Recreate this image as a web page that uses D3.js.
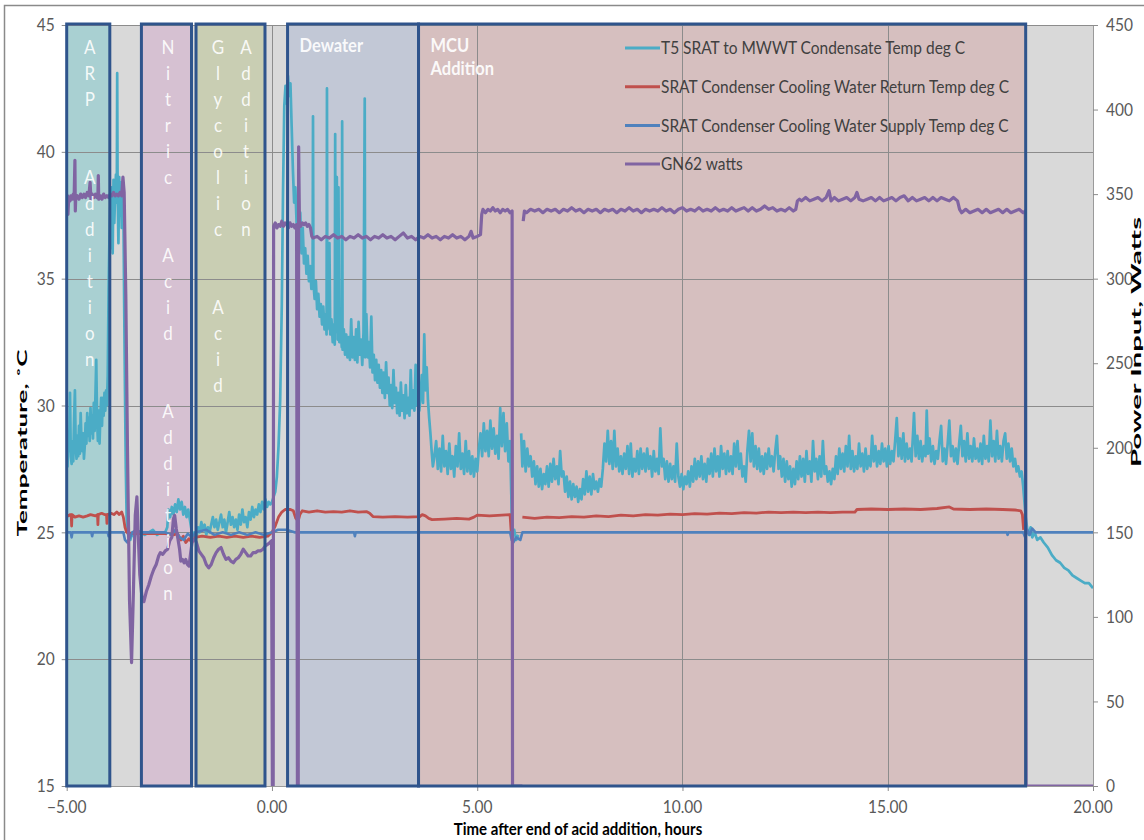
<!DOCTYPE html>
<html>
<head>
<meta charset="utf-8">
<script src="https://cdn.jsdelivr.net/npm/d3@7"></script>
<style>
  html, body { margin: 0; padding: 0; background: #ffffff; }
  svg { display: block; font-family: Lato, "Open Sans", "DejaVu Sans", sans-serif; }
</style>
</head>
<body>
<svg id="chart" width="1144" height="840"></svg>
<script>
// ---------------------------------------------------------------
// Process phases (hours after end of acid addition)
// ---------------------------------------------------------------
const phaseNames = ["ARP Addition", "Nitric Acid Addition", "Glycolic Acid Addition", "Dewater", "MCU Addition"];
const phaseStart = [-5.0, -3.18, -1.85, 0.38, 3.57];
const phaseEnd   = [-3.95, -1.96, -0.17, 3.57, 18.36];
// text written inside each phase box (one entry per column / line)
const phaseLabels = [["ARP Addition"], ["Nitric Acid Addition"], ["Glycolic Acid", "Addition"], ["Dewater"], ["MCU", "Addition"]];

// ---------------------------------------------------------------
// Axis ticks
// ---------------------------------------------------------------
const xTicks = [-5, 0, 5, 10, 15, 20];
const tempTicks = [15, 20, 25, 30, 35, 40, 45];
const powerTicks = [0, 50, 100, 150, 200, 250, 300, 350, 400, 450];

const seriesNames = [
  "T5 SRAT to MWWT Condensate Temp deg C",
  "SRAT Condenser Cooling Water Return Temp deg C",
  "SRAT Condenser Cooling Water Supply Temp deg C",
  "GN62 watts"
];

// ---------------------------------------------------------------
// Series: [hours, value]; null marks a logging gap
// ---------------------------------------------------------------
const condensateTemp = [
  [-5.00,28.4],[-4.98,27.6],[-4.96,29.0],[-4.94,28.2],[-4.92,30.5],[-4.90,28.0],[-4.88,27.7],[-4.86,28.6],[-4.84,27.8],[-4.82,29.4],
  [-4.80,30.6],[-4.78,28.3],[-4.76,27.9],[-4.74,28.8],[-4.72,28.0],[-4.70,29.2],[-4.68,28.1],[-4.66,29.7],[-4.64,28.6],[-4.62,28.2],
  [-4.60,28.9],[-4.58,27.9],[-4.56,28.4],[-4.54,29.3],[-4.52,28.5],[-4.50,29.7],[-4.48,28.8],[-4.46,29.5],[-4.44,28.6],[-4.42,29.9],
  [-4.40,28.9],[-4.38,29.6],[-4.36,28.7],[-4.34,30.1],[-4.32,29.0],[-4.30,30.4],[-4.28,31.8],[-4.26,29.4],[-4.24,28.6],[-4.22,29.8],
  [-4.20,28.5],[-4.18,29.6],[-4.16,30.3],[-4.14,29.2],[-4.12,30.3],[-4.10,29.6],[-4.08,30.5],[-4.06,29.8],[-4.04,30.6],[-4.02,30.0],
  [-4.00,31.2],[-3.98,34.5],[-3.96,36.5],[-3.94,37.8],[-3.92,36.2],[-3.90,38.6],[-3.88,36.0],[-3.86,38.9],[-3.84,37.2],[-3.82,38.4],
  [-3.80,39.1],[-3.78,38.0],[-3.77,43.1],[-3.76,38.5],[-3.74,36.4],[-3.72,39.0],[-3.70,37.5],[-3.68,38.8],[-3.66,37.0],[-3.64,38.4],
  [-3.62,38.1],[-3.60,34.0],[-3.58,30.5],[-3.56,27.5],[-3.54,25.6],[-3.52,25.0],[-3.50,24.9],[-3.45,24.7],[-3.40,25.0],[-3.35,24.8],
  [-3.30,25.1],[-3.20,25.0],[-3.10,24.9],[-3.00,25.0],[-2.90,25.1],[-2.80,24.9],[-2.70,25.0],[-2.60,25.0],[-2.55,25.2],[-2.52,25.9],
  [-2.48,25.6],[-2.44,26.0],[-2.40,25.7],[-2.36,26.1],[-2.32,25.8],[-2.28,26.3],[-2.24,25.9],[-2.20,26.2],[-2.16,25.7],[-2.12,26.0],
  [-2.08,25.6],[-2.04,25.9],[-2.00,25.5],[-1.96,25.1],[-1.92,24.9],[-1.88,25.0],[-1.84,24.8],[-1.80,25.2],[-1.76,25.0],[-1.72,25.4],
  [-1.68,25.1],[-1.64,25.3],[-1.60,24.9],[-1.56,25.2],[-1.52,25.0],[-1.48,25.3],[-1.44,25.6],[-1.40,25.2],[-1.36,25.5],[-1.32,25.1],
  [-1.28,25.4],[-1.24,25.7],[-1.20,25.2],[-1.16,25.5],[-1.12,25.0],[-1.08,25.4],[-1.04,25.8],[-1.00,25.3],[-0.96,25.6],[-0.92,25.2],
  [-0.88,25.5],[-0.84,25.1],[-0.80,25.7],[-0.76,25.3],[-0.72,25.9],[-0.68,25.4],[-0.64,25.6],[-0.60,25.2],[-0.56,25.8],[-0.52,25.5],
  [-0.48,26.0],[-0.44,25.6],[-0.40,25.9],[-0.36,25.7],[-0.32,26.1],[-0.28,25.8],[-0.24,26.2],[-0.20,25.9],[-0.16,26.3],[-0.12,26.0],
  [-0.08,26.2],[-0.04,26.1],[0.00,26.2],[0.04,26.4],[0.08,26.6],[0.12,27.2],[0.16,28.4],[0.20,30.2],[0.24,34.0],[0.27,38.5],
  [0.30,41.8],[0.33,42.6],[0.36,41.9],[0.39,43.0],[0.42,42.2],[0.45,42.7],[0.48,41.0],[0.51,39.3],[0.54,38.0],[0.57,38.6],
  [0.60,37.2],[0.63,37.9],[0.66,36.4],[0.69,37.6],[0.72,36.0],[0.75,37.0],[0.78,35.6],[0.81,36.2],[0.84,35.2],[0.87,35.9],
  [0.90,34.9],[0.93,35.5],[0.96,34.6],[0.99,35.3],[1.00,41.4],[1.01,34.8],[1.04,34.2],[1.07,34.9],[1.10,33.8],[1.13,34.4],
  [1.16,33.5],[1.19,34.0],[1.22,33.2],[1.25,33.9],[1.28,33.0],[1.31,33.6],[1.33,32.8],[1.34,42.5],[1.35,33.0],[1.38,33.5],
  [1.40,36.4],[1.42,32.8],[1.45,33.4],[1.48,32.5],[1.51,33.2],[1.53,32.4],[1.54,40.7],[1.55,32.9],[1.58,39.0],[1.60,32.6],
  [1.62,38.6],[1.64,32.5],[1.67,33.3],[1.70,32.3],[1.71,41.2],[1.72,32.2],[1.75,33.0],[1.78,32.0],[1.81,32.8],[1.84,31.9],
  [1.87,32.7],[1.90,31.8],[1.93,33.4],[1.96,31.9],[1.99,32.7],[2.02,31.8],[2.05,33.0],[2.08,31.7],[2.11,33.3],[2.14,32.0],
  [2.17,32.6],[2.20,31.6],[2.23,32.9],[2.26,42.1],[2.27,31.9],[2.30,33.6],[2.33,31.9],[2.36,32.5],[2.39,31.5],[2.42,33.5],
  [2.45,31.3],[2.48,32.0],[2.51,31.0],[2.54,31.8],[2.57,30.9],[2.60,31.6],[2.63,30.7],[2.66,31.4],[2.69,30.5],[2.72,31.3],
  [2.75,30.3],[2.78,31.7],[2.81,30.5],[2.84,31.1],[2.87,30.0],[2.90,30.8],[2.93,29.9],[2.96,31.4],[2.99,30.1],[3.02,30.7],
  [3.05,29.7],[3.08,30.5],[3.11,29.6],[3.14,30.9],[3.17,29.8],[3.20,30.4],[3.23,29.5],[3.26,30.8],[3.29,29.7],[3.32,30.3],
  [3.35,29.6],[3.38,31.4],[3.41,29.9],[3.44,30.6],[3.47,29.8],[3.50,31.6],[3.53,30.0],[3.56,30.7],[3.59,29.8],[3.62,30.4],
  [3.65,31.2],[3.68,30.1],[3.71,32.8],[3.74,30.6],[3.77,31.5],[3.80,30.2],[3.83,29.5],[3.86,28.9],[3.89,28.2],[3.92,27.6],
  [3.95,27.9],[4.00,28.6],[4.04,27.5],[4.08,28.3],[4.12,27.4],[4.16,28.8],[4.20,27.6],[4.24,28.2],[4.28,27.3],[4.32,28.5],
  [4.36,27.5],[4.40,28.0],[4.44,27.2],[4.48,28.4],[4.52,27.6],[4.56,28.9],[4.60,27.5],[4.64,28.1],[4.68,27.3],[4.72,28.6],
  [4.76,27.4],[4.80,28.2],[4.84,27.3],[4.88,28.0],[4.92,27.2],[4.96,27.9],[5.00,27.4],[5.04,28.3],[5.08,28.9],[5.12,28.0],
  [5.16,29.3],[5.20,28.2],[5.24,29.0],[5.28,28.0],[5.32,29.4],[5.36,28.3],[5.40,29.1],[5.44,28.1],[5.48,28.8],[5.52,27.9],
  [5.56,29.9],[5.60,28.4],[5.64,29.7],[5.68,28.2],[5.72,29.3],[5.76,27.8],[5.80,28.6],[5.83,26.5],[5.85,24.8],[5.90,25.1],
  [5.95,24.7],[6.00,24.9],[6.02,null],[6.07,28.9],[6.10,27.6],[6.14,28.6],[6.18,27.4],[6.22,28.3],[6.26,27.6],[6.30,28.0],
  [6.34,27.2],[6.38,27.8],[6.42,26.9],[6.46,27.6],[6.50,26.8],[6.54,27.5],[6.58,26.7],[6.62,27.3],[6.66,26.9],[6.70,27.6],
  [6.74,26.8],[6.78,27.7],[6.82,27.0],[6.86,27.9],[6.90,27.1],[6.94,27.6],[6.98,26.9],[7.02,28.2],[7.06,27.2],[7.10,27.4],
  [7.14,26.6],[7.18,27.2],[7.22,26.4],[7.26,27.0],[7.30,26.3],[7.34,26.9],[7.38,26.4],[7.42,26.8],[7.46,26.2],[7.50,26.7],
  [7.54,26.3],[7.58,27.1],[7.62,26.5],[7.66,27.4],[7.70,26.6],[7.74,27.2],[7.78,26.5],[7.82,27.3],[7.86,26.7],[7.90,27.0],
  [7.94,26.6],[7.98,27.1],[8.02,26.8],[8.06,27.5],[8.10,28.5],[8.14,27.8],[8.18,29.0],[8.22,27.7],[8.26,28.6],[8.30,27.5],
  [8.34,29.0],[8.38,27.6],[8.42,28.3],[8.46,27.4],[8.50,28.0],[8.54,27.3],[8.58,28.1],[8.62,27.5],[8.66,28.4],[8.70,27.3],
  [8.74,28.5],[8.78,27.2],[8.82,27.9],[8.86,27.4],[8.90,28.2],[8.94,27.3],[8.98,28.3],[9.02,27.5],[9.06,28.1],[9.10,27.4],
  [9.14,28.3],[9.18,27.5],[9.22,28.0],[9.26,27.2],[9.30,28.2],[9.34,27.4],[9.38,27.9],[9.42,27.3],[9.46,29.1],[9.50,27.6],
  [9.54,27.9],[9.58,27.1],[9.62,27.8],[9.66,27.0],[9.70,27.7],[9.74,27.1],[9.78,27.6],[9.82,27.0],[9.86,28.5],[9.90,27.2],
  [9.94,26.8],[9.98,27.3],[10.02,26.7],[10.06,27.2],[10.10,26.9],[10.14,27.4],[10.18,26.8],[10.22,27.6],[10.26,27.0],[10.30,27.9],
  [10.34,27.1],[10.38,27.8],[10.42,27.2],[10.46,28.0],[10.50,27.1],[10.54,27.7],[10.58,27.0],[10.62,27.9],[10.66,27.3],[10.70,28.1],
  [10.74,27.2],[10.78,28.3],[10.82,27.4],[10.86,28.0],[10.90,27.2],[10.94,28.4],[10.98,27.5],[11.02,28.1],[11.06,27.3],[11.10,28.2],
  [11.14,27.4],[11.18,28.0],[11.22,27.3],[11.26,28.5],[11.30,27.6],[11.34,28.6],[11.38,27.5],[11.42,28.1],[11.46,27.2],[11.50,27.6],
  [11.54,27.0],[11.58,28.2],[11.62,29.0],[11.66,27.8],[11.70,28.9],[11.74,27.6],[11.78,28.4],[11.82,27.5],[11.86,28.3],[11.90,27.4],
  [11.94,28.0],[11.98,27.3],[12.02,28.1],[12.06,27.5],[12.10,28.3],[12.14,27.6],[12.18,28.0],[12.22,27.4],[12.26,28.2],[12.30,28.8],
  [12.34,27.5],[12.38,28.0],[12.42,27.2],[12.46,27.9],[12.50,27.0],[12.54,27.8],[12.58,27.1],[12.62,27.6],[12.66,26.8],[12.70,27.5],
  [12.74,26.9],[12.78,27.8],[12.82,27.1],[12.86,28.0],[12.90,27.2],[12.94,27.9],[12.98,27.0],[13.02,28.2],[13.06,27.3],[13.10,27.8],
  [13.14,27.0],[13.18,28.6],[13.22,27.4],[13.26,27.9],[13.30,27.1],[13.34,28.0],[13.38,27.2],[13.42,28.6],[13.46,27.3],[13.50,27.6],
  [13.54,27.0],[13.58,27.4],[13.62,26.9],[13.66,27.5],[13.70,27.1],[13.74,28.0],[13.78,27.3],[13.82,28.3],[13.86,27.5],[13.90,28.1],
  [13.94,27.4],[13.98,28.4],[14.02,27.6],[14.06,28.8],[14.10,27.5],[14.14,28.2],[14.18,27.4],[14.22,28.0],[14.26,27.5],[14.30,28.5],
  [14.34,27.6],[14.38,28.1],[14.42,27.4],[14.46,28.3],[14.50,27.5],[14.54,28.0],[14.58,27.6],[14.62,28.8],[14.66,27.8],[14.70,28.4],
  [14.74,27.6],[14.78,28.2],[14.82,27.7],[14.86,28.5],[14.90,27.8],[14.94,28.3],[14.98,27.6],[15.02,28.4],[15.06,27.7],[15.10,28.2],
  [15.14,27.8],[15.18,28.6],[15.22,29.5],[15.26,28.0],[15.30,28.7],[15.34,27.9],[15.38,28.9],[15.42,27.8],[15.46,28.5],[15.50,27.9],
  [15.54,28.3],[15.58,27.8],[15.62,29.0],[15.64,29.7],[15.68,28.0],[15.72,28.8],[15.76,27.9],[15.80,28.6],[15.84,27.8],[15.88,28.4],
  [15.92,28.0],[15.95,29.8],[15.98,28.1],[16.02,28.7],[16.06,27.8],[16.10,28.4],[16.14,27.7],[16.18,28.2],[16.22,27.9],[16.26,28.6],
  [16.30,29.2],[16.34,27.8],[16.38,28.3],[16.42,27.7],[16.46,28.5],[16.50,29.4],[16.54,28.0],[16.58,28.4],[16.62,27.8],[16.66,28.3],
  [16.70,27.7],[16.74,28.5],[16.78,29.2],[16.82,28.0],[16.86,28.6],[16.90,27.8],[16.94,28.9],[16.98,27.9],[17.02,28.4],[17.06,27.8],
  [17.10,28.7],[17.14,27.9],[17.18,28.3],[17.22,27.8],[17.26,28.5],[17.30,27.7],[17.34,28.8],[17.38,27.9],[17.42,28.4],[17.46,27.8],
  [17.50,29.4],[17.54,28.0],[17.58,28.6],[17.62,27.8],[17.66,29.0],[17.70,27.9],[17.74,28.4],[17.78,27.8],[17.82,28.6],[17.86,28.9],
  [17.90,27.9],[17.94,28.5],[17.98,27.8],[18.02,28.3],[18.06,27.6],[18.10,27.9],[18.14,27.4],[18.18,27.6],[18.22,27.2],[18.26,27.4],
  [18.30,26.8],[18.33,26.2],[18.36,25.6],[18.40,25.1],[18.44,24.9],[18.48,25.2],[18.52,24.8],[18.58,25.0],[18.64,24.7],[18.72,24.8],
  [18.80,24.6],[18.90,24.4],[19.00,24.1],[19.10,23.9],[19.20,23.8],[19.30,23.6],[19.40,23.5],[19.50,23.3],[19.60,23.2],[19.70,23.1],
  [19.80,23.0],[19.90,23.0],[20.00,22.8]
];

const returnTemp = [
  [-5.00,25.7],[-4.96,25.65],[-4.92,25.7],[-4.89,25.7],[-4.88,25.25],[-4.87,25.7],[-4.80,25.6],[-4.70,25.65],[-4.60,25.6],[-4.50,25.65],
  [-4.42,25.7],[-4.30,25.65],[-4.25,25.7],[-4.24,25.3],[-4.23,25.7],[-4.15,25.75],[-4.08,25.7],[-4.03,25.7],[-4.02,25.35],[-4.01,25.7],
  [-3.92,25.75],[-3.85,25.7],[-3.78,25.8],[-3.72,25.7],[-3.66,25.8],[-3.62,25.6],[-3.58,25.2],[-3.54,25.0],[-3.40,24.95],[-3.00,24.95],
  [-2.60,24.95],[-2.40,24.9],[-2.30,24.95],[-2.22,24.7],[-2.16,24.85],[-2.10,24.6],[-2.02,24.75],[-1.95,24.6],[-1.88,24.8],[-1.70,24.85],
  [-1.50,24.8],[-1.30,24.85],[-1.10,24.8],[-0.90,24.85],[-0.70,24.8],[-0.50,24.85],[-0.30,24.8],[-0.10,24.85],[0.00,25.0],[0.08,25.25],
  [0.16,25.6],[0.24,25.8],[0.32,25.9],[0.45,25.9],[0.52,25.85],[0.58,25.55],[0.64,25.45],[0.68,25.7],[0.74,25.85],[0.90,25.8],
  [1.10,25.85],[1.30,25.8],[1.50,25.82],[1.70,25.8],[1.90,25.85],[2.10,25.8],[2.30,25.82],[2.38,25.75],[2.46,25.62],[2.70,25.6],
  [3.00,25.62],[3.30,25.6],[3.60,25.62],[3.66,25.7],[3.74,25.65],[3.82,25.55],[3.90,25.5],[4.20,25.52],[4.50,25.55],[4.80,25.52],
  [4.92,25.6],[5.00,25.68],[5.30,25.65],[5.60,25.68],[5.80,25.7],[5.83,24.95],[5.86,24.9],[5.87,null],[6.10,25.6],[6.40,25.55],
  [6.70,25.6],[7.00,25.58],[7.30,25.62],[7.60,25.6],[7.90,25.65],[8.20,25.62],[8.50,25.68],[8.80,25.65],[9.10,25.7],[9.40,25.68],
  [9.70,25.72],[10.00,25.7],[10.30,25.74],[10.60,25.72],[10.90,25.76],[11.20,25.74],[11.50,25.78],[11.80,25.76],[12.10,25.8],[12.40,25.78],
  [12.70,25.8],[13.00,25.78],[13.30,25.8],[13.60,25.78],[13.90,25.8],[14.20,25.8],[14.25,25.9],[14.60,25.92],[15.00,25.9],[15.40,25.92],
  [15.80,25.9],[16.20,25.94],[16.50,26.0],[16.60,25.92],[17.00,25.9],[17.40,25.92],[17.80,25.9],[18.10,25.88],[18.24,25.85],[18.28,25.7],
  [18.31,25.1]
];

const supplyTemp = [
  [-5.00,25.0],[-4.90,25.0],[-4.88,24.8],[-4.86,25.0],[-4.40,25.0],[-4.38,24.85],[-4.36,25.0],[-4.00,25.0],[-3.98,24.85],[-3.96,25.0],
  [-3.62,25.0],[-3.58,24.7],[-3.52,24.6],[-3.46,24.8],[-3.40,25.0],[-3.30,25.1],[-3.20,25.0],[-2.60,25.0],[-2.45,24.9],[-2.35,25.1],
  [-2.25,24.8],[-2.15,24.7],[-2.05,24.95],[-1.95,24.8],[-1.85,25.0],[-1.60,25.1],[-1.40,24.9],[-1.20,25.0],[-1.00,24.9],[-0.80,25.0],
  [-0.60,24.9],[-0.40,25.0],[-0.20,24.9],[0.00,25.0],[0.15,25.1],[0.35,25.1],[0.55,25.0],[2.00,25.0],[2.02,24.85],[2.04,25.0],
  [5.00,25.0],[5.80,25.0],[5.84,24.7],[5.88,24.6],[5.95,24.8],[6.05,24.7],[6.10,25.0],[7.00,25.0],[9.00,25.0],[11.00,25.0],
  [13.00,25.0],[15.00,25.0],[17.00,25.0],[17.90,25.0],[17.92,24.9],[17.94,25.0],[18.30,25.0],[18.35,24.8],[18.40,25.1],[18.46,24.9],
  [18.52,25.15],[18.60,25.0],[20.00,25.0]
];

const gn62Watts = [
  [-5.00,347],[-4.98,349],[-4.97,338],[-4.95,348],[-4.92,346],[-4.90,349],[-4.87,347],[-4.84,350],[-4.82,347],[-4.80,370],
  [-4.79,340],[-4.78,348],[-4.74,349],[-4.70,347],[-4.66,350],[-4.62,348],[-4.58,350],[-4.54,348],[-4.50,351],[-4.46,349],
  [-4.43,357],[-4.41,347],[-4.38,350],[-4.34,348],[-4.30,350],[-4.27,348],[-4.24,349],[-4.23,361],[-4.22,347],[-4.18,349],
  [-4.14,347],[-4.10,350],[-4.06,348],[-4.02,349],[-3.98,348],[-3.94,350],[-3.90,349],[-3.86,351],[-3.82,349],[-3.78,350],
  [-3.74,349],[-3.70,351],[-3.66,349],[-3.63,360],[-3.60,351],[-3.56,290],[-3.52,200],[-3.47,110],[-3.42,73],[-3.38,110],
  [-3.33,160],[-3.29,171],[-3.26,150],[-3.22,125],[-3.16,110],[-3.12,109],[-3.06,115],[-3.00,119],[-2.94,124],[-2.88,128],
  [-2.82,131],[-2.76,136],[-2.72,138],[-2.66,137],[-2.60,139],[-2.54,140],[-2.49,145],[-2.44,147],[-2.40,158],[-2.37,160],
  [-2.33,152],[-2.29,146],[-2.25,140],[-2.22,133],[-2.18,134],[-2.14,132],[-2.10,134],[-2.06,131],[-2.02,130],[-1.98,138],
  [-1.94,145],[-1.88,146],[-1.84,144],[-1.78,139],[-1.72,137],[-1.66,135],[-1.60,131],[-1.54,129],[-1.48,131],[-1.42,135],
  [-1.36,138],[-1.30,140],[-1.24,141],[-1.18,137],[-1.12,134],[-1.06,135],[-1.00,133],[-0.94,132],[-0.88,134],[-0.82,135],
  [-0.76,137],[-0.70,140],[-0.64,138],[-0.58,136],[-0.52,136],[-0.46,138],[-0.40,138],[-0.34,139],[-0.28,139],[-0.22,140],
  [-0.16,142],[-0.10,143],[-0.05,144],[-0.01,145],[0.01,0],[0.03,0],[0.04,331],[0.08,333],[0.12,330],[0.16,332],
  [0.20,331],[0.24,334],[0.28,331],[0.32,333],[0.36,332],[0.40,330],[0.44,333],[0.48,331],[0.52,332],[0.56,330],
  [0.60,332],[0.62,0],[0.64,0],[0.65,378],[0.67,333],[0.70,331],[0.74,333],[0.78,332],[0.82,333],[0.86,331],
  [0.90,332],[0.94,330],[0.97,325],[1.00,324],[1.10,325],[1.20,323],[1.30,325],[1.40,324],[1.50,326],[1.60,324],
  [1.70,325],[1.80,323],[1.90,325],[2.00,324],[2.10,326],[2.20,324],[2.30,325],[2.40,323],[2.50,325],[2.60,324],
  [2.70,326],[2.80,324],[2.90,325],[3.00,323],[3.10,325],[3.20,327],[3.30,324],[3.40,325],[3.50,323],[3.60,325],
  [3.70,324],[3.80,326],[3.90,324],[4.00,325],[4.10,323],[4.20,325],[4.30,324],[4.40,326],[4.50,324],[4.60,325],
  [4.70,323],[4.80,325],[4.85,328],[4.90,324],[5.00,325],[5.08,326],[5.11,338],[5.14,341],[5.20,339],[5.26,341],
  [5.32,340],[5.38,342],[5.44,340],[5.50,341],[5.56,339],[5.62,341],[5.68,340],[5.74,341],[5.80,339],[5.85,340],
  [5.86,0],[6.10,0],[6.11,null],[6.12,334],[6.15,340],[6.20,339],[6.30,341],[6.40,340],[6.50,341],[6.60,339],
  [6.70,341],[6.80,340],[6.90,341],[7.00,339],[7.10,341],[7.20,340],[7.30,342],[7.40,340],[7.50,341],[7.60,339],
  [7.70,341],[7.80,340],[7.90,341],[8.00,339],[8.10,341],[8.20,340],[8.30,341],[8.40,339],[8.50,341],[8.60,340],
  [8.70,342],[8.80,340],[8.90,341],[9.00,339],[9.10,341],[9.20,340],[9.30,341],[9.40,340],[9.50,342],[9.60,340],
  [9.70,341],[9.80,339],[9.90,341],[10.00,342],[10.10,340],[10.20,341],[10.30,340],[10.40,342],[10.50,340],[10.60,341],
  [10.70,340],[10.80,342],[10.90,340],[11.00,341],[11.10,340],[11.20,342],[11.30,340],[11.40,341],[11.50,342],[11.60,340],
  [11.70,342],[11.80,340],[11.90,341],[12.00,343],[12.10,341],[12.20,342],[12.30,340],[12.40,341],[12.50,340],[12.60,342],
  [12.70,340],[12.76,341],[12.80,346],[12.85,347],[12.90,346],[13.00,348],[13.10,346],[13.20,347],[13.30,348],[13.40,346],
  [13.50,348],[13.57,352],[13.62,346],[13.70,348],[13.80,346],[13.90,347],[14.00,348],[14.10,346],[14.20,348],[14.25,351],
  [14.30,347],[14.40,346],[14.50,347],[14.60,348],[14.70,346],[14.80,348],[14.90,346],[15.00,347],[15.10,348],[15.20,346],
  [15.30,348],[15.40,349],[15.50,346],[15.60,348],[15.70,346],[15.80,347],[15.90,348],[16.00,346],[16.10,348],[16.20,346],
  [16.30,348],[16.40,347],[16.50,346],[16.60,348],[16.70,346],[16.75,341],[16.80,339],[16.90,341],[17.00,339],[17.10,340],
  [17.20,341],[17.30,339],[17.40,341],[17.50,339],[17.60,340],[17.70,341],[17.80,339],[17.90,341],[18.00,339],[18.10,340],
  [18.20,341],[18.30,339],[18.35,340],[18.37,0],[20.00,0]
];

// ---------------------------------------------------------------
// Layout and styling
// ---------------------------------------------------------------
const plot = { left: 66.7, right: 1093, top: 25, bottom: 786 };
const SY = 1.15; // vertical text stretch used throughout the figure
const textColor = "#595959";
const gridColor = "#8c8c8c";
const seriesColors = ["#4bacc6", "#c0504d", "#4f81bd", "#8064a2"];
const seriesWidths = [2.7, 2.8, 2.6, 3.2];
const phaseFills = ["#a9d0d2", "#d6c1d2", "#c9ceb3", "#c2c8d6", "#d6bfbf"];
const phaseBorder = "#2f548c";

const svg = d3.select("#chart");

const x = d3.scaleLinear().domain([-5, 20]).range([plot.left, plot.right]);
const yT = d3.scaleLinear().domain([15, 45]).range([plot.bottom, plot.top]);
const yW = d3.scaleLinear().domain([0, 450]).range([plot.bottom, plot.top]);

function stretchedText(parent, px, py, str, opt) {
  return parent.append("text")
    .attr("transform", `translate(${px},${py}) scale(${opt.sx || 1},${opt.sy || SY})`)
    .attr("dy", "0.35em")
    .attr("text-anchor", opt.anchor || "start")
    .attr("font-size", opt.size)
    .attr("font-weight", opt.weight || 400)
    .attr("fill", opt.fill || textColor)
    .attr("fill-opacity", opt.opacity || 1)
    .text(str);
}

// outer chart frame (only its top and left edges fall inside the page)
svg.append("rect")
  .attr("x", 4.5).attr("y", 5.5).attr("width", 1200).attr("height", 900)
  .attr("fill", "#ffffff").attr("stroke", "#8a8a8a").attr("stroke-width", 1.5);

// plot background
svg.append("rect")
  .attr("x", plot.left).attr("y", plot.top)
  .attr("width", plot.right - plot.left).attr("height", plot.bottom - plot.top)
  .attr("fill", "#d9d9d9");

// phase box fills
const phaseG = svg.append("g");
phaseNames.forEach((name, i) => {
  phaseG.append("rect")
    .attr("x", x(phaseStart[i])).attr("y", plot.top)
    .attr("width", x(phaseEnd[i]) - x(phaseStart[i]))
    .attr("height", plot.bottom - plot.top)
    .attr("fill", phaseFills[i]);
});

// gridlines
const gridG = svg.append("g").attr("stroke", gridColor).attr("stroke-width", 1);
tempTicks.forEach(t => {
  gridG.append("line").attr("x1", plot.left).attr("x2", plot.right)
    .attr("y1", Math.round(yT(t)) + 0.5).attr("y2", Math.round(yT(t)) + 0.5);
});
xTicks.forEach(h => {
  gridG.append("line").attr("x1", Math.round(x(h)) + 0.5).attr("x2", Math.round(x(h)) + 0.5)
    .attr("y1", plot.top).attr("y2", plot.bottom);
});

// axes (lines and tick marks from d3 axis generators, labels drawn separately)
const axisStyle = g => {
  g.selectAll("path.domain").attr("stroke", "#9a9a9a");
  g.selectAll(".tick line").attr("stroke", "#8c8c8c");
  g.selectAll(".tick text").remove();
};
svg.append("g").attr("transform", `translate(0,${plot.bottom})`)
  .call(d3.axisBottom(x).tickValues(xTicks).tickSize(5).tickSizeOuter(0)).call(axisStyle);
svg.append("g").attr("transform", `translate(${plot.left},0)`)
  .call(d3.axisLeft(yT).tickValues(tempTicks).tickSize(5).tickSizeOuter(0)).call(axisStyle);
svg.append("g").attr("transform", `translate(${plot.right},0)`)
  .call(d3.axisRight(yW).tickValues(powerTicks).tickSize(5).tickSizeOuter(0)).call(axisStyle);

// tick labels
const labelG = svg.append("g");
tempTicks.forEach(t => stretchedText(labelG, plot.left - 12, yT(t), d3.format("d")(t), { size: 15.5, anchor: "end" }));
powerTicks.forEach(w => stretchedText(labelG, plot.right + 13, yW(w), d3.format("d")(w), { size: 15.5, anchor: "start" }));
xTicks.forEach(h => stretchedText(labelG, x(h), 807, d3.format(".2f")(h), { size: 15.5, anchor: "middle" }));

// axis titles
stretchedText(labelG, 578, 829, "Time after end of acid addition, hours", { size: 15, weight: 700, anchor: "middle", fill: "#000000" });
labelG.append("text")
  .attr("transform", "translate(27,443) rotate(-90)")
  .attr("text-anchor", "middle").attr("font-size", 14).attr("font-weight", 700).attr("fill", "#000000")
  .attr("textLength", 187).attr("lengthAdjust", "spacingAndGlyphs")
  .text("Temperature, ˚C");
labelG.append("text")
  .attr("transform", "translate(1141,342) rotate(-90)")
  .attr("text-anchor", "middle").attr("font-size", 14).attr("font-weight", 700).attr("fill", "#000000")
  .attr("textLength", 250).attr("lengthAdjust", "spacingAndGlyphs")
  .text("Power Input, Watts");

// data lines
svg.append("clipPath").attr("id", "plotClip").append("rect")
  .attr("x", plot.left).attr("y", plot.top - 2)
  .attr("width", plot.right - plot.left).attr("height", plot.bottom - plot.top + 2);
const linesG = svg.append("g").attr("clip-path", "url(#plotClip)");

const tempLine = d3.line().defined(d => d[1] !== null).x(d => x(d[0])).y(d => yT(d[1]));
const powerLine = d3.line().defined(d => d[1] !== null).x(d => x(d[0])).y(d => yW(d[1]));

[[condensateTemp, tempLine], [returnTemp, tempLine], [supplyTemp, tempLine], [gn62Watts, powerLine]]
  .forEach(([data, gen], i) => {
    linesG.append("path")
      .attr("d", gen(data))
      .attr("fill", "none")
      .attr("stroke", seriesColors[i])
      .attr("stroke-width", seriesWidths[i])
      .attr("stroke-linejoin", "round");
  });

// phase box borders, drawn over the traces
phaseNames.forEach((name, i) => {
  svg.append("rect")
    .attr("x", x(phaseStart[i])).attr("y", plot.top - 1)
    .attr("width", x(phaseEnd[i]) - x(phaseStart[i]))
    .attr("height", plot.bottom - plot.top + 1)
    .attr("fill", "none")
    .attr("stroke", phaseBorder)
    .attr("stroke-width", 3);
});

// phase labels: the three acid-addition phases are written as stacked letters
const phaseTextG = svg.append("g");
phaseLabels.forEach((cols, i) => {
  const cx = (x(phaseStart[i]) + x(phaseEnd[i])) / 2;
  if (i < 3) {
    cols.forEach((col, c) => {
      const colX = cx + 1.5 + (c - (cols.length - 1) / 2) * 28;
      // a double space leaves one blank line between words
      const letters = col.split(" ").join("  ").split("");
      letters.forEach((ch, k) => {
        if (ch === " ") return;
        stretchedText(phaseTextG, colX, 47 + 26 * k, ch,
          { size: 17, anchor: "middle", fill: "#ffffff", opacity: 0.9 });
      });
    });
  } else {
    cols.forEach((line, k) => {
      stretchedText(phaseTextG, x(phaseStart[i]) + 12, 45 + 23 * k, line,
        { size: 16.5, weight: 700, anchor: "start", fill: "#ffffff", opacity: 0.92 });
    });
  }
});

// legend
const legendG = svg.append("g");
seriesNames.forEach((name, i) => {
  const ly = 48 + 38.7 * i;
  legendG.append("line")
    .attr("x1", 625).attr("x2", 660).attr("y1", ly).attr("y2", ly)
    .attr("stroke", seriesColors[i]).attr("stroke-width", 3);
  stretchedText(legendG, 661, ly, name, { size: 15.5, fill: "#404040" });
});
</script>
</body>
</html>
